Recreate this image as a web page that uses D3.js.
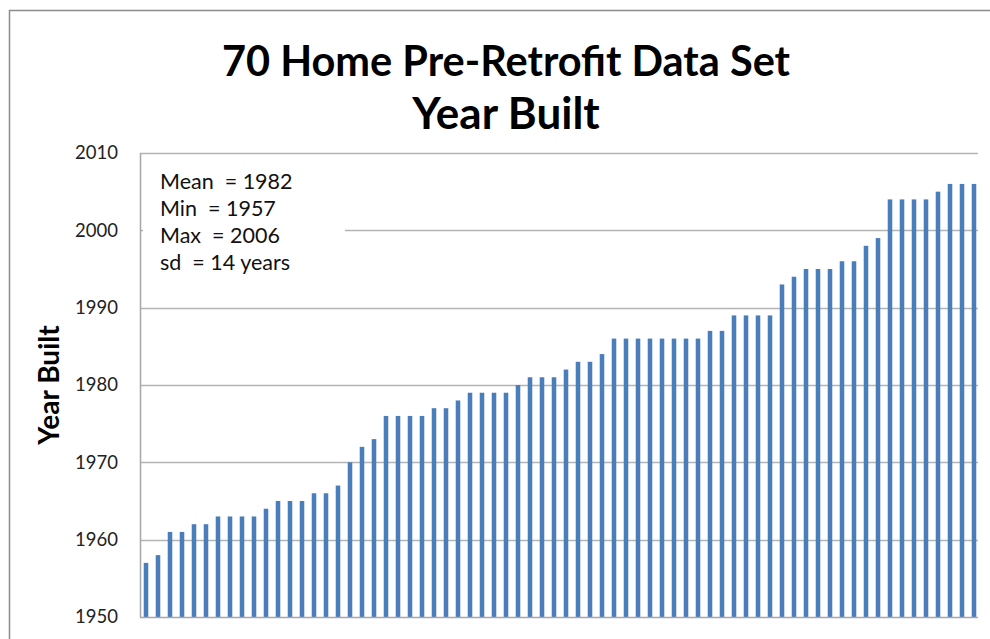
<!DOCTYPE html>
<html>
<head>
<meta charset="utf-8">
<script src="https://cdn.jsdelivr.net/npm/d3@7"></script>
<style>
  html, body { margin: 0; padding: 0; background: #fff; overflow: hidden; }
  svg { display: block; }
  text { font-family: Lato, "Open Sans", sans-serif; }
</style>
</head>
<body>
<script>
(function () {

  // one bar per home, sorted by year built
  var homes = d3.range(1, 71);
  var yearBuilt = [
    1957, 1958, 1961, 1961, 1962, 1962, 1963, 1963, 1963, 1963,
    1964, 1965, 1965, 1965, 1966, 1966, 1967, 1970, 1972, 1973,
    1976, 1976, 1976, 1976, 1977, 1977, 1978, 1979, 1979, 1979,
    1979, 1980, 1981, 1981, 1981, 1982, 1983, 1983, 1984, 1986,
    1986, 1986, 1986, 1986, 1986, 1986, 1986, 1987, 1987, 1989,
    1989, 1989, 1989, 1993, 1994, 1995, 1995, 1995, 1996, 1996,
    1998, 1999, 2004, 2004, 2004, 2004, 2005, 2006, 2006, 2006
  ];
  var yTicks = [1950, 1960, 1970, 1980, 1990, 2000, 2010];
  var titleLines = ["70 Home Pre-Retrofit Data Set", "Year Built"];
  var statLines = ["Mean  = 1982", "Min  = 1957", "Max  = 2006", "sd  = 14 years"];

  var w = 990, h = 639;
  var left = 140, right = 980, top = 153, bottom = 617;

  var svg = d3.select("body").append("svg")
      .attr("width", w)
      .attr("height", h);

  // chart frame
  svg.append("rect")
      .attr("x", 9.5)
      .attr("y", 10.5)
      .attr("width", 1000)
      .attr("height", 700)
      .attr("fill", "#fff")
      .attr("stroke", "#8c8c8c")
      .attr("stroke-width", 1.5);

  var x = d3.scaleBand()
      .domain(homes)
      .range([left, right])
      .paddingInner(0.62)
      .paddingOuter(0.31);

  var y = d3.scaleLinear()
      .domain([1950, 2010])
      .range([bottom, top]);

  // gridlines
  svg.append("g")
    .selectAll("line")
    .data(yTicks.slice(1))
    .enter().append("line")
      .attr("x1", left)
      .attr("x2", 978)
      .attr("y1", function (d) { return Math.round(y(d)) + 0.5; })
      .attr("y2", function (d) { return Math.round(y(d)) + 0.5; })
      .attr("stroke", "#b4b4b4")
      .attr("stroke-width", 1.5);

  // bars
  svg.append("g")
    .selectAll("rect")
    .data(yearBuilt)
    .enter().append("rect")
      .attr("x", function (d, i) { return x(homes[i]); })
      .attr("width", x.bandwidth())
      .attr("y", function (d) { return y(d); })
      .attr("height", function (d) { return y(1950) - y(d); })
      .attr("fill", "#4a7ebb");

  // axes lines
  svg.append("line")
      .attr("x1", left + 0.5).attr("x2", left + 0.5)
      .attr("y1", top).attr("y2", bottom)
      .attr("stroke", "#a6a6a6").attr("stroke-width", 1.5);
  svg.append("line")
      .attr("x1", left).attr("x2", 978)
      .attr("y1", bottom + 0.5).attr("y2", bottom + 0.5)
      .attr("stroke", "#a6a6a6").attr("stroke-width", 1.5);

  // y tick labels
  svg.append("g")
    .selectAll("text")
    .data(yTicks)
    .enter().append("text")
      .attr("x", 118)
      .attr("y", function (d) { return y(d); })
      .attr("dy", "0.35em")
      .attr("text-anchor", "end")
      .attr("font-size", 18.5)
      .attr("fill", "#222")
      .text(function (d) { return d; });

  // y axis title
  svg.append("text")
      .attr("transform", "translate(59," + (top + bottom) / 2 + ") rotate(-90)")
      .attr("text-anchor", "middle")
      .attr("font-size", 28)
      .attr("font-weight", "bold")
      .attr("fill", "#000")
      .text("Year Built");

  // title
  svg.append("g")
    .selectAll("text")
    .data(titleLines)
    .enter().append("text")
      .attr("x", 506)
      .attr("y", function (d, i) { return 76 + i * 53; })
      .attr("text-anchor", "middle")
      .attr("font-size", function (d, i) { return i === 0 ? 41.5 : 44; })
      .attr("font-weight", "bold")
      .attr("fill", "#000")
      .text(function (d) { return d; });

  // stats box
  svg.append("rect")
      .attr("x", 143)
      .attr("y", 160)
      .attr("width", 202)
      .attr("height", 125)
      .attr("fill", "#fff");

  svg.append("g")
    .selectAll("text")
    .data(statLines)
    .enter().append("text")
      .attr("x", 160)
      .attr("y", function (d, i) { return 181 + i * 27; })
      .attr("dy", "0.35em")
      .attr("font-size", 21.5)
      .attr("fill", "#111")
      .style("white-space", "pre")
      .text(function (d) { return d; });

}).call(this);
</script>
</body>
</html>
